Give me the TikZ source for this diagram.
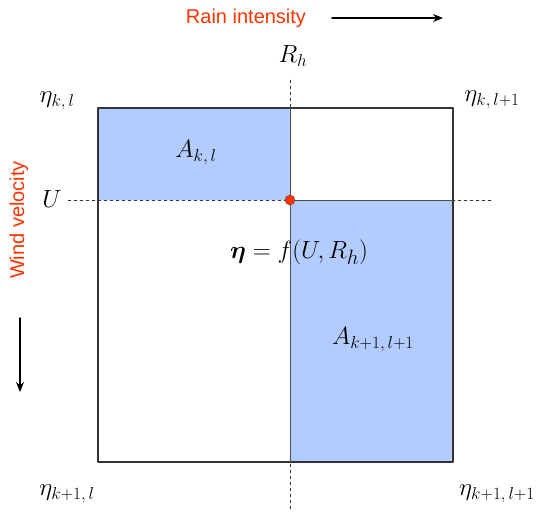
\documentclass[tikz,border=0pt]{standalone}
\usepackage{amsmath}
\usepackage{bm}
\usepackage{fontspec}
\usetikzlibrary{arrows.meta}
\newfontfamily\labelfont{Liberation Sans}
\definecolor{cellblue}{RGB}{179,204,255}
\definecolor{rainred}{RGB}{255,51,0}
\begin{document}
\begin{tikzpicture}[x=1pt,y=-1pt,line join=round,line cap=round,>={Stealth[length=10pt,width=8pt]},scale=1]
\useasboundingbox (0,0) rectangle (541,512);
\coordinate (nw) at (98,108);
\coordinate (se) at (453,462);
\coordinate (p) at (290,200);
\fill[cellblue] (nw) rectangle (p);
\fill[cellblue] (p) rectangle (se);
\draw[line width=1.2pt,black!80] (nw) rectangle (se);
\draw[dashed,black!80] (290,80) coordinate (vtop) -- (290,510) coordinate (vbot);
\draw[dashed,black!80] (68,200) coordinate (hl) -- (492,200) coordinate (hr);
\draw[black!70] (290,108) -- (290,462);
\draw[black!70] (290,200) -- (453,200);
\fill[rainred,draw=black!70] (p) circle (5);
\node[text=rainred,font=\labelfont\fontsize{20}{24}\selectfont] (rain) at (246,18) {Rain intensity};
\coordinate (ra) at (332,18);
\coordinate (rb) at (443,18);
\draw[->,line width=1.6pt] (ra) -- (rb);
\node[text=rainred,font=\labelfont\fontsize{20}{24}\selectfont,rotate=90] (wind) at (19,220) {Wind velocity};
\coordinate (wa) at (20,318);
\coordinate (wb) at (20,392);
\draw[->,line width=1.6pt] (wa) -- (wb);
\node[font=\fontsize{25}{28}\selectfont] (rh) at (293,56) {$R_h$};
\node[font=\fontsize{25}{28}\selectfont] (u) at (52,199) {$U$};
\node[font=\fontsize{25}{28}\selectfont] (e1) at (57,101) {$\eta_{k,\,l}$};
\node[font=\fontsize{25}{28}\selectfont] (e2) at (492,100) {$\eta_{k,\,l+1}$};
\node[font=\fontsize{25}{28}\selectfont] (e3) at (67,494) {$\eta_{k+1,\,l}$};
\node[font=\fontsize{25}{28}\selectfont] (e4) at (497,494) {$\eta_{k+1,\,l+1}$};
\node[font=\fontsize{25}{28}\selectfont] (a1) at (196,153) {$A_{k,\,l}$};
\node[font=\fontsize{25}{28}\selectfont] (a2) at (373,340) {$A_{k+1,\,l+1}$};
\node[font=\fontsize{28}{31}\selectfont] (f) at (299,252) {$\bm{\eta}=f(U,R_h)$};
\end{tikzpicture}
\end{document}
